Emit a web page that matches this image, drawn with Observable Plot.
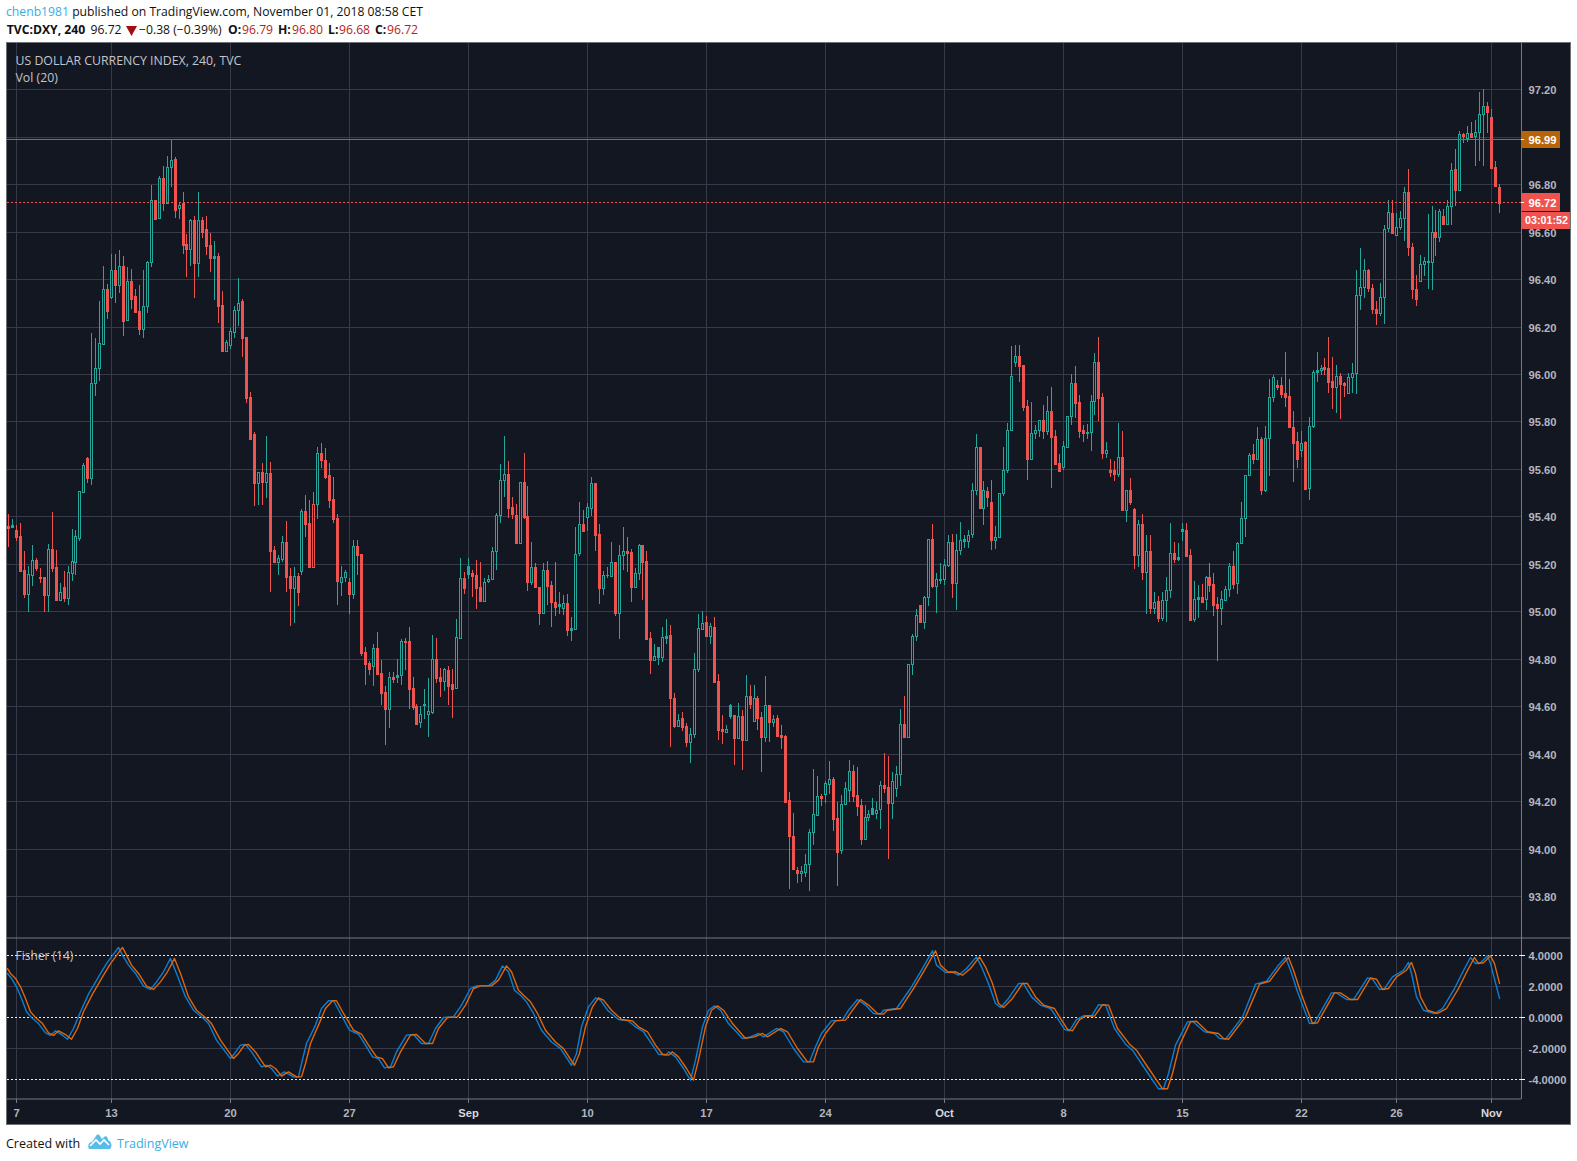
<!DOCTYPE html>
<html>
<head>
<meta charset="utf-8">
<script src="https://cdn.jsdelivr.net/npm/d3@7"></script>
<script src="https://cdn.jsdelivr.net/npm/@observablehq/plot@0.6"></script>
<style>
html,body{margin:0;padding:0;background:#fff;width:1577px;height:1161px;overflow:hidden}
body{font-family:"Open Sans",sans-serif;font-size:12.2px;color:#111;position:relative}
.line{position:absolute;left:6px;white-space:pre;line-height:18px}
.seg{position:absolute;top:21px;white-space:pre;line-height:18px}
.blue{color:#37aee2}
.down{color:#b71c1c}
b{font-weight:700}
#panes{position:absolute;left:6px;top:42px;width:1565px;height:1083px;box-sizing:border-box;border:1px solid #6f7178;background:#131722}
#panes svg{display:block}
#logo{position:absolute;left:88px;top:1134px}
#tri{position:absolute;left:126px;top:25px}
</style>
</head>
<body>
<div class="line" style="top:3px"><span class="blue">chenb1981</span> published on TradingView.com, November 01, 2018 08:58 CET</div>
<span class="seg" style="left:6.7px"><b>TVC:DXY, 240</b></span>
<span class="seg" style="left:90.5px">96.72</span>
<svg id="tri" width="11" height="11" viewBox="0 0 11 11"><path d="M0 1H11L5.5 11Z" fill="#a30f0f"/></svg>
<span class="seg" style="left:139px">&#8722;0.38 (&#8722;0.39%)</span>
<span class="seg" style="left:228px"><b>O:</b></span><span class="seg down" style="left:242px">96.79</span>
<span class="seg" style="left:278px"><b>H:</b></span><span class="seg down" style="left:292px">96.80</span>
<span class="seg" style="left:328px"><b>L:</b></span><span class="seg down" style="left:339px">96.68</span>
<span class="seg" style="left:375px"><b>C:</b></span><span class="seg down" style="left:387px">96.72</span>
<div id="panes"></div>
<div class="line" style="top:1135px;font-size:12.5px">Created with</div>
<svg id="logo" width="24" height="16" viewBox="0 0 24 16"><path d="M1 15 C-1 12 1 8 4 8 L8 2 C9 0 11 0 12 2 L14 5 L16 3 C18 1 20 3 20 6 C23 7 25 12 22 15 Z" fill="#57bde8"/><path d="M2 12 L8 6 L12 10 L16 6 L21 11" fill="none" stroke="#fff" stroke-width="1.6"/></svg>
<div class="line blue" style="top:1135px;left:117px;font-size:12.5px">TradingView</div>
<script>
const open = [
95.360,95.357,95.341,95.317,95.173,95.074,95.152,95.215,95.143,95.143,
95.070,95.261,95.185,95.049,95.101,95.058,95.160,95.209,95.310,95.504,
95.646,95.563,95.961,96.024,96.128,96.357,96.326,96.437,96.376,96.454,
96.229,96.390,96.327,96.264,96.191,96.288,96.470,96.732,96.659,96.824,
96.722,96.871,96.905,96.698,96.720,96.546,96.528,96.647,96.469,96.647,
96.610,96.542,96.490,96.496,96.289,96.098,96.124,96.178,96.271,96.306,
96.154,95.902,95.746,95.542,95.586,95.546,95.581,95.257,95.209,95.222,
95.291,95.147,95.100,95.147,95.169,95.421,95.371,95.451,95.451,95.666,
95.638,95.573,95.472,95.392,95.125,95.146,95.122,95.074,95.274,95.240,
94.827,94.781,94.771,94.844,94.739,94.659,94.590,94.722,94.725,94.730,
94.874,94.874,94.676,94.600,94.532,94.605,94.566,94.577,94.798,94.722,
94.705,94.751,94.692,94.678,94.889,95.139,95.159,95.160,95.152,95.101,
95.045,95.126,95.138,95.253,95.404,95.552,95.577,95.438,95.404,95.289,
95.544,95.400,95.125,95.185,95.101,94.994,95.173,95.110,95.038,95.024,
95.015,95.034,94.923,94.926,95.247,95.367,95.397,95.437,95.539,95.324,
95.096,95.152,95.150,95.206,94.994,95.239,95.253,95.249,95.104,95.163,
95.278,95.211,94.886,94.796,94.809,94.809,94.889,94.899,94.633,94.518,
94.549,94.515,94.451,94.482,94.756,94.927,94.954,94.897,94.933,94.705,
94.503,94.493,94.560,94.562,94.468,94.558,94.459,94.642,94.539,94.633,
94.553,94.472,94.604,94.535,94.549,94.478,94.473,94.204,94.052,93.910,
93.895,93.903,93.934,94.069,94.143,94.220,94.228,94.274,94.292,94.128,
93.992,94.187,94.246,94.326,94.225,94.183,94.042,94.135,94.145,94.149,
94.165,94.267,94.258,94.191,94.254,94.313,94.524,94.472,94.777,94.895,
95.025,94.956,95.059,95.303,95.108,95.133,95.135,95.194,95.291,95.121,
95.257,95.298,95.298,95.324,95.510,95.691,95.437,95.506,95.459,95.302,
95.315,95.497,95.594,95.763,96.052,96.074,96.036,95.864,95.643,95.750,
95.763,95.805,95.761,95.843,95.737,95.624,95.610,95.694,95.822,95.961,
95.881,95.763,95.753,95.754,95.885,96.049,95.902,95.669,95.594,95.594,
95.580,95.649,95.428,95.510,95.430,95.239,95.367,95.167,95.253,95.015,
95.042,94.973,95.046,95.088,95.244,95.222,95.340,95.341,95.236,94.969,
95.051,95.059,95.051,95.143,95.114,95.029,95.015,95.049,95.093,95.191,
95.118,95.287,95.392,95.576,95.661,95.642,95.726,95.512,95.729,95.901,
95.952,95.952,95.922,95.906,95.775,95.716,95.678,95.712,95.518,95.779,
96.007,96.015,96.028,96.024,95.969,95.944,95.990,95.960,95.918,95.986,
96.003,96.334,96.368,96.437,96.361,96.276,96.258,96.326,96.614,96.678,
96.585,96.621,96.659,96.766,96.534,96.357,96.394,96.463,96.474,96.474,
96.597,96.579,96.665,96.634,96.707,96.863,96.777,97.010,96.994,97.015,
97.003,97.022,97.095,97.130,97.082,96.871,96.79];
const close = [
95.351,95.364,95.315,95.171,95.074,95.156,95.215,95.184,95.140,95.070,
95.261,95.184,95.049,95.083,95.058,95.164,95.211,95.316,95.506,95.615,
95.563,95.961,96.024,96.129,96.357,96.267,96.437,96.376,96.454,96.225,
96.390,96.317,96.263,96.191,96.288,96.470,96.732,96.654,96.824,96.722,
96.871,96.900,96.692,96.711,96.545,96.528,96.647,96.469,96.647,96.600,
96.541,96.490,96.496,96.288,96.098,96.133,96.180,96.268,96.301,96.153,
95.900,95.728,95.542,95.586,95.546,95.581,95.256,95.209,95.223,95.291,
95.146,95.100,95.147,95.083,95.421,95.369,95.188,95.188,95.666,95.638,
95.567,95.471,95.390,95.129,95.146,95.164,95.074,95.274,95.239,94.826,
94.779,94.758,94.844,94.737,94.657,94.590,94.722,94.716,94.730,94.874,
94.871,94.674,94.598,94.527,94.569,94.608,94.581,94.798,94.720,94.705,
94.756,94.687,94.674,94.890,95.139,95.100,95.190,95.150,95.100,95.045,
95.125,95.135,95.253,95.404,95.552,95.577,95.437,95.412,95.289,95.544,
95.397,95.125,95.185,95.104,94.994,95.173,95.108,95.037,95.020,95.029,
95.034,94.923,94.928,95.243,95.367,95.340,95.438,95.539,95.323,95.100,
95.152,95.154,95.206,94.994,95.236,95.253,95.247,95.104,95.160,95.278,
95.209,94.885,94.796,94.810,94.848,94.890,94.895,94.633,94.518,94.541,
94.514,94.451,94.482,94.756,94.928,94.949,94.897,94.937,94.704,94.501,
94.497,94.503,94.604,94.468,94.558,94.459,94.642,94.610,94.633,94.552,
94.472,94.604,94.535,94.545,94.476,94.472,94.198,94.051,93.912,93.899,
93.904,93.934,94.069,94.145,94.220,94.215,94.275,94.292,94.126,93.987,
94.187,94.254,94.326,94.223,94.181,94.042,94.132,94.145,94.170,94.163,
94.267,94.257,94.194,94.284,94.313,94.524,94.472,94.777,94.895,94.986,
94.956,95.059,95.303,95.108,95.135,95.136,95.194,95.291,95.121,95.257,
95.299,95.303,95.320,95.510,95.691,95.437,95.510,95.483,95.302,95.315,
95.497,95.594,95.763,95.990,96.074,96.035,95.862,95.643,95.750,95.763,
95.805,95.761,95.843,95.733,95.622,95.593,95.695,95.822,95.961,95.879,
95.761,95.753,95.756,95.885,96.049,95.900,95.669,95.680,95.588,95.580,
95.649,95.428,95.510,95.462,95.239,95.367,95.167,95.253,95.015,95.038,
94.973,95.046,95.088,95.244,95.222,95.230,95.346,95.233,94.965,95.051,
95.059,95.041,95.143,95.111,95.028,95.015,95.051,95.093,95.191,95.114,
95.287,95.392,95.576,95.657,95.642,95.724,95.512,95.729,95.901,95.986,
95.946,95.915,95.903,95.778,95.710,95.643,95.710,95.517,95.779,96.007,
96.015,96.024,96.022,95.967,95.944,95.990,95.959,95.952,95.986,96.003,
96.335,96.365,96.437,96.361,96.275,96.258,96.326,96.613,96.682,96.595,
96.621,96.656,96.766,96.537,96.360,96.318,96.463,96.475,96.475,96.597,
96.579,96.686,96.634,96.707,96.859,96.777,97.010,97.001,97.015,96.999,
97.019,97.095,97.128,97.106,96.869,96.793,96.72];
const high = [
95.410,95.389,95.364,95.372,95.254,95.191,95.279,95.223,95.181,95.143,
95.282,95.417,95.258,95.119,95.170,95.191,95.346,95.341,95.506,95.624,
95.650,96.171,96.150,96.306,96.455,96.379,96.504,96.504,96.521,96.496,
96.449,96.441,96.357,96.374,96.437,96.476,96.795,96.732,96.833,96.875,
96.917,96.986,96.913,96.719,96.767,96.590,96.652,96.664,96.767,96.660,
96.664,96.594,96.559,96.508,96.348,96.142,96.192,96.285,96.403,96.315,
96.154,95.923,95.754,95.586,95.626,95.739,95.629,95.274,95.236,95.316,
95.379,95.181,95.185,95.160,95.430,95.489,95.468,95.501,95.691,95.708,
95.687,95.624,95.565,95.409,95.190,95.173,95.139,95.299,95.299,95.240,
94.848,94.789,94.861,94.912,94.794,94.684,94.743,94.743,94.798,94.882,
94.886,94.933,94.722,94.608,94.601,94.671,94.718,94.899,94.886,94.760,
94.760,94.768,94.756,94.966,95.223,95.164,95.223,95.173,95.215,95.206,
95.139,95.152,95.270,95.413,95.619,95.737,95.632,95.480,95.451,95.544,
95.666,95.528,95.291,95.202,95.103,95.202,95.211,95.126,95.206,95.080,
95.067,95.072,94.975,95.354,95.459,95.426,95.455,95.566,95.539,95.367,
95.169,95.185,95.291,95.206,95.278,95.354,95.312,95.261,95.181,95.282,
95.278,95.253,94.912,94.861,94.848,94.933,94.966,94.941,94.654,94.566,
94.574,94.528,94.507,94.823,94.987,95.000,94.979,94.949,94.975,94.735,
94.562,94.520,94.608,94.563,94.612,94.584,94.730,94.688,94.688,94.642,
94.574,94.726,94.604,94.562,94.562,94.520,94.478,94.237,94.149,93.921,
93.926,93.976,94.081,94.334,94.305,94.229,94.284,94.368,94.301,94.195,
94.225,94.279,94.372,94.351,94.343,94.208,94.183,94.161,94.212,94.195,
94.284,94.402,94.389,94.322,94.347,94.587,94.642,94.777,94.906,95.008,
95.025,95.063,95.303,95.368,95.160,95.202,95.219,95.320,95.324,95.326,
95.375,95.320,95.341,95.539,95.746,95.691,95.548,95.522,95.552,95.358,
95.497,95.691,95.792,96.117,96.122,96.122,96.036,95.889,95.881,95.784,
95.805,95.868,95.907,95.944,95.763,95.661,95.716,95.822,95.999,96.032,
95.910,95.784,95.788,95.910,96.087,96.154,95.919,95.713,95.640,95.632,
95.792,95.758,95.510,95.560,95.434,95.383,95.409,95.320,95.320,95.080,
95.063,95.080,95.143,95.371,95.291,95.287,95.371,95.371,95.261,95.126,
95.110,95.114,95.147,95.202,95.160,95.059,95.084,95.105,95.202,95.253,
95.291,95.459,95.576,95.665,95.705,95.775,95.733,95.779,95.977,95.994,
95.973,95.986,96.091,95.981,95.842,95.754,95.758,95.716,95.817,96.015,
96.091,96.036,96.066,96.158,96.070,96.036,96.003,95.965,96.003,96.045,
96.437,96.533,96.483,96.441,96.378,96.306,96.382,96.630,96.732,96.732,
96.678,96.686,96.787,96.863,96.551,96.416,96.501,96.492,96.673,96.707,
96.690,96.694,96.694,96.732,96.888,96.947,97.023,97.015,97.044,97.061,
97.069,97.187,97.200,97.145,97.116,96.897,96.80];
const low = [
95.272,95.353,95.298,95.167,95.058,94.999,95.108,95.171,95.121,94.999,
94.999,95.167,95.049,95.049,95.037,95.028,95.129,95.154,95.298,95.504,
95.541,95.534,95.909,95.972,96.128,96.232,96.317,96.301,96.343,96.162,
96.229,96.275,96.258,96.166,96.153,96.258,96.452,96.654,96.659,96.688,
96.715,96.787,96.659,96.654,96.507,96.410,96.456,96.322,96.410,96.574,
96.503,96.431,96.313,96.216,96.098,96.094,96.107,96.153,96.201,96.073,
95.879,95.728,95.445,95.448,95.448,95.479,95.083,95.209,95.154,95.209,
95.083,94.940,94.951,95.024,95.154,95.315,95.188,95.188,95.390,95.603,
95.559,95.437,95.374,95.028,95.066,95.125,94.990,95.053,95.154,94.813,
94.691,94.733,94.683,94.737,94.607,94.438,94.506,94.699,94.699,94.691,
94.753,94.590,94.586,94.527,94.506,94.544,94.472,94.566,94.699,94.640,
94.662,94.607,94.552,94.678,94.886,95.074,95.138,95.062,95.011,95.045,
95.045,95.118,95.138,95.176,95.371,95.483,95.395,95.389,95.285,95.289,
95.390,95.087,95.112,95.104,94.944,94.994,95.027,94.935,94.978,94.989,
94.986,94.897,94.876,94.923,95.235,95.338,95.338,95.400,95.256,95.032,
95.070,95.139,95.150,94.978,94.883,95.176,95.167,95.037,95.104,95.133,
95.049,94.881,94.737,94.795,94.775,94.788,94.860,94.430,94.506,94.514,
94.497,94.430,94.362,94.468,94.742,94.920,94.897,94.864,94.697,94.458,
94.442,94.490,94.544,94.353,94.468,94.331,94.459,94.588,94.535,94.501,
94.323,94.451,94.447,94.514,94.476,94.421,94.198,93.831,93.912,93.853,
93.861,93.882,93.819,94.017,94.139,94.181,94.190,94.228,94.072,93.844,
93.979,94.187,94.198,94.198,94.139,94.013,94.042,94.118,94.145,94.126,
94.084,94.232,93.958,94.126,94.216,94.265,94.468,94.472,94.733,94.876,
94.956,94.927,95.024,95.100,94.994,95.114,95.112,95.188,95.058,95.007,
95.236,95.268,95.268,95.309,95.492,95.437,95.365,95.441,95.260,95.264,
95.310,95.487,95.584,95.763,96.031,95.968,95.846,95.555,95.643,95.728,
95.736,95.728,95.744,95.521,95.622,95.593,95.597,95.694,95.787,95.816,
95.732,95.715,95.728,95.677,95.829,95.803,95.643,95.648,95.567,95.551,
95.567,95.428,95.378,95.449,95.180,95.188,95.133,94.990,94.990,94.990,
94.956,94.961,94.956,95.058,95.205,95.213,95.298,95.233,94.965,94.956,
94.973,95.041,95.007,95.083,94.978,94.792,94.944,95.045,95.062,95.093,
95.074,95.287,95.312,95.571,95.622,95.636,95.491,95.504,95.571,95.883,
95.932,95.899,95.862,95.771,95.545,95.605,95.651,95.512,95.470,95.771,
95.965,95.994,95.997,95.918,95.851,95.834,95.812,95.904,95.914,95.921,
95.914,96.271,96.321,96.347,96.254,96.208,96.245,96.212,96.600,96.592,
96.585,96.606,96.562,96.499,96.314,96.288,96.394,96.411,96.360,96.352,
96.499,96.558,96.626,96.630,96.626,96.706,96.777,96.975,96.979,96.998,
96.878,96.899,96.878,97.015,96.863,96.787,96.68];

const fisherBar = [-0.27,0.8,2.1,3.3,4.6,5.9,7.6,9.2,10.5,11.8,13.4,14.9,16.4,18.1,20.2,22.7,24.8,26.5,27.8,28.8,30.2,31.9,34,35.7,37.4,39.1,40.9,42.4,44.5,46.6,49.1,50.4,52.5,55.9,57.1,58.6,59.7,61.3,63.9,65.1,66.4,67.9,69.7,71.8,73.1,73.9,75.2,77.3,79,80.7,81.9,83.6,86.1,88.2,89.9,91.8,93.3,94.9,96.2,97.9,100.4,102.1,104.2,105.9,107.6,109.7,112.2,114.3,116.4,118,121,122.7,124.6,126,127.7,129,130.7,132.4,134.5,137,139.1,141.9,143.2,144.6,146.3,148,149.2,151.1,153.8,156.4,158,160.2,162.3,163.9,165.6,166.5,168.1,170.2,171.9,173.2,174.9,176.5,178,179.5,181.6,185,187.1,189.2,190.4,193.8,195.5,198,200.5,202,203.4,205.1,207.6,210.2,211.9,214,216.1,218.2,219.8,220.7,224,227.4,229.9,232.9,234.1,236.2,237.9,239.6,241.7,244,245.5,247.2,248.8,250.1,252.2,254.7,256,258.1,260.2,262.8,264.5,266.2,267.5,269.3,271,273.1,274.9,276.6,278.8,281.8,283.5,286.1,290,291.3,292.6,294.3,297.3,298.6,301.6,304.2,305.5,306.8,311.1,314.6,317.2,320.2,322,323.2,325,328,329.3,333.6,334.9,337.5,339.2,342.7,344,345.7,347,349.1,351.7,353,353.9,355.2,356.9,359.5,361.7,364.7,367.3,368.8,369.9,371.2,372.9,373.8,376];
const fisherVal = [2.84,2.52,1.98,1.23,0.37,0,-0.39,-0.99,-1.16,-0.86,-1.10,-1.40,-0.71,0.37,1.51,2.62,3.48,4.09,4.52,4.02,3.38,2.84,2.02,1.81,2.30,2.95,3.81,2.84,1.33,0.47,-0.06,-0.39,-1.46,-2.65,-2.32,-1.78,-1.74,-2.22,-3.18,-3.08,-3.29,-3.78,-3.51,-3.83,-3.83,-2.97,-1.68,-0.49,0.58,1.08,1.08,0.26,-0.82,-1.08,-1.78,-2.54,-2.65,-3.25,-3.18,-2.22,-1.14,-1.10,-1.68,-1.68,-0.71,0,0.04,0.80,1.87,2.04,2.04,2.41,3.33,2.95,1.76,1.44,1.01,0.26,-0.82,-1.58,-2.01,-3.08,-2.32,-0.60,0.69,1.27,1.12,0.47,-0.13,-0.22,-0.60,-0.92,-1.78,-2.37,-2.43,-2.22,-2.54,-3.29,-4.04,-2.75,-0.60,0.47,0.75,0.47,-0.39,-1.35,-1.25,-1.03,-1.25,-0.71,-0.92,-2.00,-2.86,-2.86,-1.89,-1.03,-0.22,-0.17,0.47,1.16,0.80,0.26,0.22,0.47,0.58,1.87,2.95,4.30,3.38,2.90,2.95,2.73,3.16,3.91,3.27,2.19,0.90,0.65,1.23,2.19,2.19,1.33,0.80,0.58,-0.06,-0.77,-0.86,-0.13,0.11,0.09,0.82,0.80,-0.71,-1.72,-2.11,-3.08,-4.60,-4.60,-3.61,-1.78,-0.28,-0.24,-0.92,-1.03,-1.35,-1.40,0.04,2.15,2.34,3.38,3.87,3.05,1.66,-0.39,-0.34,1.59,1.59,1.16,1.16,2.56,2.47,1.81,1.87,2.62,3.05,3.55,2.84,1.33,0.47,0.26,0.58,1.87,3.16,3.87,3.48,3.53,3.98,3.48,1.23];
const signalBar = [-0.27,0.6,1.7,3,4.2,5.5,6.8,8.5,10.1,11.4,12.7,14.3,15.8,17.3,19,21.1,23.6,25.7,27.4,28.7,29.7,31.1,32.8,34.9,36.6,38.3,40,41.8,43.3,45.4,47.5,50,51.3,53.4,56.8,58,59.5,60.6,62.2,64.8,66,67.3,68.8,70.6,72.7,74,74.8,76.1,78.2,79.9,81.6,82.8,84.5,87,89.1,90.8,92.7,94.2,95.8,97.1,98.8,101.3,103,105.1,106.8,108.5,110.6,113.1,115.2,117.3,118.9,121.9,123.6,125.5,126.9,128.6,129.9,131.6,133.3,135.4,137.9,140,142.8,144.1,145.5,147.2,148.9,150.1,152,154.7,157.3,158.9,161.1,163.2,164.8,166.5,167.4,169,171.1,172.8,174.1,175.8,177.4,178.9,180.4,182.5,185.9,188,190.1,191.3,194.7,196.4,198.9,201.4,202.9,204.3,206,208.5,211.1,212.8,214.9,217,219.1,220.7,221.6,224.9,228.3,230.8,233.8,235,237.1,238.8,240.5,242.6,244.9,246.4,248.1,249.7,251,253.1,255.6,256.9,259,261.1,263.7,265.4,267.1,268.4,270.2,271.9,274,275.8,277.5,279.7,282.7,284.4,287,290.9,292.2,293.5,295.2,298.2,299.5,302.5,305.1,306.4,307.7,312,315.5,318.1,321.1,322.9,324.1,325.9,328.9,330.2,334.5,335.8,338.4,340.1,343.6,344.9,346.6,347.9,350,352.6,353.9,354.8,356.1,357.8,360.4,362.6,365.6,368.2,369.7,370.8,372.1,373.8,374.7,376];
const signalVal = [3.16,2.84,2.52,1.98,1.23,0.37,0,-0.39,-0.99,-1.16,-0.86,-1.10,-1.40,-0.71,0.37,1.51,2.62,3.48,4.09,4.52,4.02,3.38,2.84,2.02,1.81,2.30,2.95,3.81,2.84,1.33,0.47,-0.06,-0.39,-1.46,-2.65,-2.32,-1.78,-1.74,-2.22,-3.18,-3.08,-3.29,-3.78,-3.51,-3.83,-3.83,-2.97,-1.68,-0.49,0.58,1.08,1.08,0.26,-0.82,-1.08,-1.78,-2.54,-2.65,-3.25,-3.18,-2.22,-1.14,-1.10,-1.68,-1.68,-0.71,0,0.04,0.80,1.87,2.04,2.04,2.41,3.33,2.95,1.76,1.44,1.01,0.26,-0.82,-1.58,-2.01,-3.08,-2.32,-0.60,0.69,1.27,1.12,0.47,-0.13,-0.22,-0.60,-0.92,-1.78,-2.37,-2.43,-2.22,-2.54,-3.29,-4.04,-2.75,-0.60,0.47,0.75,0.47,-0.39,-1.35,-1.25,-1.03,-1.25,-0.71,-0.92,-2.00,-2.86,-2.86,-1.89,-1.03,-0.22,-0.17,0.47,1.16,0.80,0.26,0.22,0.47,0.58,1.87,2.95,4.30,3.38,2.90,2.95,2.73,3.16,3.91,3.27,2.19,0.90,0.65,1.23,2.19,2.19,1.33,0.80,0.58,-0.06,-0.77,-0.86,-0.13,0.11,0.09,0.82,0.80,-0.71,-1.72,-2.11,-3.08,-4.60,-4.60,-3.61,-1.78,-0.28,-0.24,-0.92,-1.03,-1.35,-1.40,0.04,2.15,2.34,3.38,3.87,3.05,1.66,-0.39,-0.34,1.59,1.59,1.16,1.16,2.56,2.47,1.81,1.87,2.62,3.05,3.55,2.84,1.33,0.47,0.26,0.58,1.87,3.16,3.87,3.48,3.53,3.98,3.48,2.20];

const priceTicks = [93.8,94,94.2,94.4,94.6,94.8,95,95.2,95.4,95.6,95.8,96,96.2,96.4,96.6,96.8,97,97.2];
const fisherTicks = [4,2,0,-2,-4];
const fisherDotted = [4,0,-4];
const fisherSolid = [2,-2];
const tickBars = [2,26,56,86,116,146,176,206,236,266,296,326,350,374];
const tickLabels = ["7","13","20","27","Sep","10","17","24","Oct","8","15","22","26","Nov"];
const boldLabels = ["Sep","Oct","Nov"];
const solidGreenBars = [116,164,182,218];
const hollowRedBars = [77];
const levelPrice = 96.989;
const lastLine = 96.725;
const countdownPrice = 96.647;

const BG="#131722", GRID="#363a49", GREEN="#26a69a", RED="#ef5350", AXIS="#787b86", TXT="#b2b5be";
const ORANGE="#b5650f", BLUE="#0a7fd6", SIGNAL="#e0660a";
const fontFamily='"Liberation Sans",Arial,sans-serif';
const labelFont='"Open Sans",sans-serif';
const W=1563;
const xScale={domain:[2,374],range:[9,1484],round:true};
const leftBar=-0.27, axisBar=381.6, tagRight=391.4, countRight=393.9, tagText=386.8, countText=387.9;
const axisFont={fontSize:11.2,fontWeight:"bold"};

const rows=open.map((o,i)=>({i,o,c:close[i],h:high[i],l:low[i],top:Math.max(o,close[i]),bot:Math.min(o,close[i])}));
const isUp=d=>d.c>=d.o;

const main=Plot.plot({
  width:W,height:895,marginLeft:0,marginRight:49,marginTop:0,marginBottom:0,
  x:{...xScale,axis:null},
  y:{domain:[93.623,97.395],range:[895,0],round:true,axis:null},
  style:{background:BG,fontFamily,overflow:"visible"},
  marks:[
    Plot.ruleY(priceTicks,{stroke:GRID,x1:leftBar,x2:axisBar}),
    Plot.ruleX(tickBars,{stroke:GRID}),
    Plot.ruleX(rows.filter(isUp),{x:"i",y1:"h",y2:"l",stroke:GREEN}),
    Plot.ruleX(rows.filter(d=>!isUp(d)),{x:"i",y1:"h",y2:"l",stroke:RED}),
    Plot.ruleX(rows.filter(isUp),{x:"i",y1:"top",y2:"bot",stroke:GREEN,strokeWidth:3,insetBottom:-1}),
    Plot.ruleX(rows.filter(d=>!isUp(d)),{x:"i",y1:"top",y2:"bot",stroke:RED,strokeWidth:3,insetBottom:-1}),
    Plot.ruleX(rows.filter(d=>(isUp(d)&&d.top-d.bot>0.009&&!solidGreenBars.includes(d.i))||hollowRedBars.includes(d.i)),{x:"i",y1:"top",y2:"bot",stroke:BG,strokeWidth:1,insetTop:1}),
    Plot.ruleY([levelPrice],{x1:leftBar,x2:axisBar,stroke:ORANGE}),
    Plot.ruleY([lastLine],{x1:leftBar,x2:axisBar,stroke:RED,strokeDasharray:"2,2"}),
    Plot.ruleX([axisBar],{stroke:AXIS}),
    Plot.axisY({anchor:"right",ticks:priceTicks,tickFormat:d=>d.toFixed(2),tickSize:0,tickPadding:7,label:null,color:TXT,dy:1,...axisFont}),
    Plot.rect([levelPrice],{x1:axisBar,x2:tagRight,y1:d=>d+0.036,y2:d=>d-0.036,fill:"#b8650a"}),
    Plot.rect([lastLine],{x1:axisBar,x2:tagRight,y1:d=>d+0.036,y2:d=>d-0.036,fill:RED}),
    Plot.rect([countdownPrice],{x1:axisBar,x2:countRight,y1:d=>d+0.036,y2:d=>d-0.036,fill:RED}),
    Plot.ruleY([levelPrice,lastLine],{x1:axisBar,x2:382.4,stroke:"#fff"}),
    Plot.text([levelPrice],{x:tagText,y:d=>d,text:d=>"96.99",fill:"#fff",dy:0.5,...axisFont}),
    Plot.text([lastLine],{x:tagText,y:d=>d,text:d=>"96.72",fill:"#fff",dy:0.5,...axisFont}),
    Plot.text([countdownPrice],{x:countText,y:d=>d,text:d=>"03:01:52",fill:"#fff",fontSize:10.7,fontWeight:"bold",dy:0.5}),
    Plot.text(["US DOLLAR CURRENCY INDEX, 240, TVC"],{frameAnchor:"top-left",lineAnchor:"middle",dx:8,dy:18,fill:"#c3c5cc",fontSize:12.3,fontFamily:labelFont}),
    Plot.text(["Vol (20)"],{frameAnchor:"top-left",lineAnchor:"middle",dx:8,dy:35,fill:"#c3c5cc",fontSize:12.3,fontFamily:labelFont})
  ]
});

const signalPts=signalBar.map((b,i)=>({b,v:signalVal[i]}));
const fisherPts=fisherBar.map((b,i)=>({b,v:fisherVal[i]}));
const labelRows=tickBars.map((b,i)=>({b,t:tickLabels[i]}));
const FBOT=-5.290, FTOP=5.097;

const lower=Plot.plot({
  width:W,height:186,marginLeft:0,marginRight:49,marginTop:0,marginBottom:25,
  x:{...xScale,axis:null},
  y:{domain:[FBOT,FTOP],range:[161,0],axis:null},
  style:{background:BG,fontFamily,overflow:"visible"},
  marks:[
    Plot.ruleY(fisherSolid,{stroke:GRID,x1:leftBar,x2:axisBar}),
    Plot.ruleX(tickBars,{y1:FTOP,y2:FBOT,stroke:GRID}),
    Plot.ruleY(fisherDotted,{x1:leftBar,x2:axisBar,stroke:"#fbe7df",strokeDasharray:"2,2"}),
    Plot.line(fisherPts,{x:"b",y:"v",stroke:BLUE,strokeWidth:1.4}),
    Plot.line(signalPts,{x:"b",y:"v",stroke:SIGNAL,strokeWidth:1.4}),
    Plot.ruleX([axisBar],{y1:FTOP,y2:FBOT,stroke:AXIS}),
    Plot.ruleY([FTOP],{x1:leftBar,x2:countRight,stroke:AXIS,dy:-0.5}),
    Plot.ruleY([FBOT],{x1:leftBar,x2:axisBar,stroke:AXIS,dy:-0.5}),
    Plot.axisY({anchor:"right",ticks:fisherTicks,tickFormat:d=>d.toFixed(4),tickSize:0,tickPadding:7,label:null,color:TXT,dy:1,...axisFont}),
    Plot.ruleY(fisherDotted,{x1:axisBar,x2:382.7,stroke:"#fff"}),
    Plot.ruleX(tickBars,{y1:FBOT,y2:-5.55,stroke:AXIS}),
    Plot.text(labelRows.filter(d=>!boldLabels.includes(d.t)),{x:"b",text:"t",frameAnchor:"bottom",lineAnchor:"middle",dy:14,fill:TXT,...axisFont}),
    Plot.text(labelRows.filter(d=>boldLabels.includes(d.t)),{x:"b",text:"t",frameAnchor:"bottom",lineAnchor:"middle",dy:14,fill:"#d6d8de",...axisFont}),
    Plot.text(["Fisher (14)"],{frameAnchor:"top-left",lineAnchor:"middle",dx:8,dy:18,fill:"#c3c5cc",fontSize:12,fontFamily:labelFont})
  ]
});

document.getElementById("panes").append(main,lower);
</script>
</body>
</html>
